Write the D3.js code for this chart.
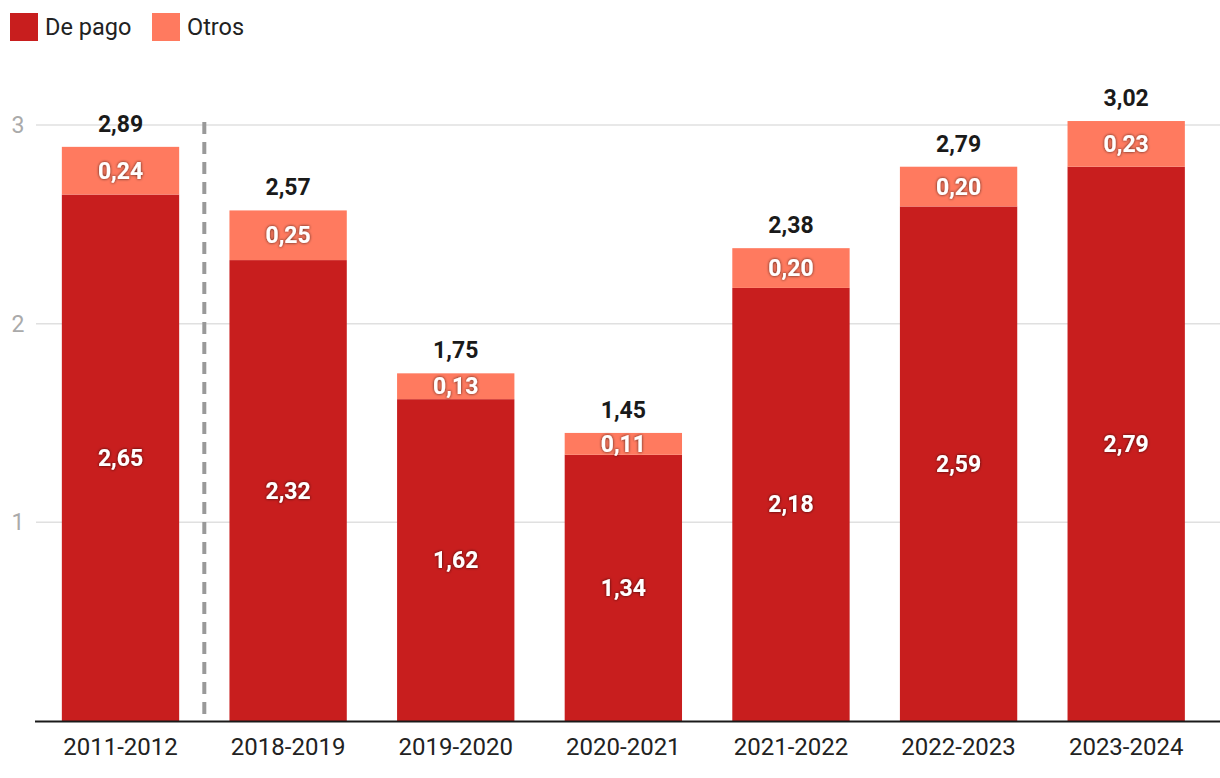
<!DOCTYPE html>
<html><head><meta charset="utf-8">
<script src="https://cdn.jsdelivr.net/npm/d3@7"></script>
<style>
body{margin:0;background:#fff;font-family:Roboto,"Noto Sans",sans-serif;}
</style></head>
<body><svg id="c" width="1220" height="778"></svg>
<script>
const categories = ["2011-2012","2018-2019","2019-2020","2020-2021","2021-2022","2022-2023","2023-2024"];
const dePago = [2.65,2.32,1.62,1.34,2.18,2.59,2.79];
const otros = [0.24,0.25,0.13,0.11,0.20,0.20,0.23];
const totals = [2.89,2.57,1.75,1.45,2.38,2.79,3.02];
const yTicks = [1,2,3];
const seriesNames = ["De pago","Otros"];
const colors = ["#c81e1e","#ff7a5f"];

const svg = d3.select("#c");
const defs = svg.append("defs");
const f = defs.append("filter").attr("id","sh").attr("x","-20%").attr("y","-30%").attr("width","140%").attr("height","160%");
f.append("feDropShadow").attr("dx",0).attr("dy",0).attr("stdDeviation",1.6).attr("flood-color","#000").attr("flood-opacity",0.75);

const x = d3.scaleBand().domain(categories).range([36.7,1210]).paddingInner(0.3).paddingOuter(0.15);
const y = d3.scaleLinear().domain([0,3]).range([721,125]);
const fmt = v => d3.format(".2f")(v).replace(".",",");
const LBL = 23;

// grid
svg.append("g").selectAll("line").data(yTicks).join("line")
  .attr("x1",36).attr("x2",1220).attr("y1",d=>y(d)).attr("y2",d=>y(d))
  .attr("stroke","#e0e0e0").attr("stroke-width",1.5);
svg.append("g").selectAll("text").data(yTicks).join("text")
  .attr("x",18).attr("y",d=>y(d)+8).attr("text-anchor","middle")
  .attr("font-size",23).attr("fill","#aaa").text(d=>d);

// bars
const stack = categories.map((c,i)=>({c, a:dePago[i], b:otros[i], t:totals[i]}));
const g = svg.append("g");
g.selectAll("rect.a").data(stack).join("rect").attr("class","a")
  .attr("x",d=>x(d.c)).attr("width",x.bandwidth())
  .attr("y",d=>y(d.a)).attr("height",d=>y(0)-y(d.a)).attr("fill",colors[0]);
g.selectAll("rect.b").data(stack).join("rect").attr("class","b")
  .attr("x",d=>x(d.c)).attr("width",x.bandwidth())
  .attr("y",d=>y(d.a+d.b)).attr("height",d=>y(d.a)-y(d.a+d.b)).attr("fill",colors[1]);

// segment labels
g.selectAll("text.la").data(stack).join("text").attr("class","la")
  .attr("x",d=>x(d.c)+x.bandwidth()/2).attr("y",d=>y(d.a/2)+8)
  .attr("text-anchor","middle").attr("font-size",LBL).attr("font-weight","bold")
  .attr("fill","#fff").attr("filter","url(#sh)").text(d=>fmt(d.a));
g.selectAll("text.lb").data(stack).join("text").attr("class","lb")
  .attr("x",d=>x(d.c)+x.bandwidth()/2).attr("y",d=>y(d.a+d.b/2)+8)
  .attr("text-anchor","middle").attr("font-size",LBL).attr("font-weight","bold")
  .attr("fill","#fff").attr("filter","url(#sh)").text(d=>fmt(d.b));
g.selectAll("text.lt").data(stack).join("text").attr("class","lt")
  .attr("x",d=>x(d.c)+x.bandwidth()/2).attr("y",d=>y(d.a+d.b)-15)
  .attr("text-anchor","middle").attr("font-size",LBL).attr("font-weight","bold")
  .attr("fill","#1a1a1a").text(d=>fmt(d.t));

// dashed separator
const sepX = (x(categories[0])+x.bandwidth() + x(categories[1]))/2;
svg.append("line").attr("x1",sepX).attr("x2",sepX).attr("y1",122).attr("y2",721)
  .attr("stroke","#999").attr("stroke-width",4).attr("stroke-dasharray","12,8");

// x axis
svg.append("line").attr("x1",35).attr("x2",1220).attr("y1",721.5).attr("y2",721.5)
  .attr("stroke","#1a1a1a").attr("stroke-width",2);
svg.append("g").selectAll("text").data(categories).join("text")
  .attr("x",d=>x(d)+x.bandwidth()/2).attr("y",755).attr("text-anchor","middle")
  .attr("font-size",24).attr("fill","#222").text(d=>d);

// legend
const leg = svg.append("g");
const lx = [10,152];
seriesNames.forEach((n,i)=>{
  leg.append("rect").attr("x",lx[i]).attr("y",13).attr("width",28).attr("height",28).attr("fill",colors[i]);
  leg.append("text").attr("x",lx[i]+35).attr("y",35).attr("font-size",23.5).attr("fill","#222").text(n);
});
</script></body></html>
